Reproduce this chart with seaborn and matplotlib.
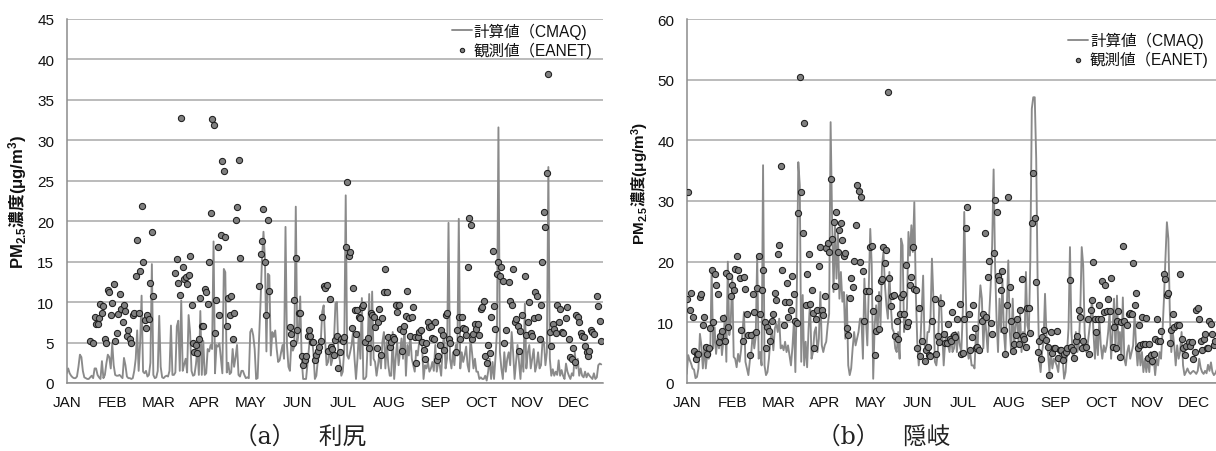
import numpy as np
import pandas as pd
import matplotlib
matplotlib.use("Agg")
import matplotlib.pyplot as plt
import seaborn as sns

N = None

MONTHS = ["JAN", "FEB", "MAR", "APR", "MAY", "JUN",
          "JUL", "AUG", "SEP", "OCT", "NOV", "DEC"]

SERIES_LABELS = ["計算値（CMAQ)", "観測値（EANET)"]
SITE_CAPTIONS = ["（a）　利尻", "（b）　隠岐"]

# Daily PM2.5 (µg/m3), Rishiri: CMAQ model
RISHIRI_MODEL = [
    1.2, 1.8, 1.2, 0.9, 0.7, 0.6, 0.6, 0.8, 2.0, 3.5,
    3.2, 1.5, 0.7, 0.6, 0.5, 0.5, 0.7, 0.9, 0.6, 1.8,
    1.8, 1.0, 0.7, 0.5, 2.7, 0.6, 1.0, 2.4, 3.5, 3.2,
    1.8, 4.9, 2.2, 1.0, 0.9, 0.9, 1.0, 0.8, 0.6, 3.1,
    2.2, 0.8, 0.6, 0.6, 0.5, 0.6, 1.5, 3.0, 6.5, 1.5,
    4.9, 10.8, 1.4, 1.2, 1.5, 0.8, 1.0, 2.5, 14.7, 1.0,
    0.6, 0.7, 1.5, 8.3, 2.0, 0.7, 0.6, 0.8, 0.9, 0.8,
    1.5, 7.1, 1.0, 1.0, 1.3, 7.0, 7.7, 1.5, 10.2, 1.5,
    2.3, 3.0, 1.3, 8.4, 6.3, 1.5, 0.9, 1.0, 2.3, 4.2,
    1.0, 8.9, 1.0, 5.2, 1.0, 1.2, 4.2, 3.9, 4.7, 4.2,
    17.5, 1.2, 4.7, 4.5, 4.9, 3.0, 1.2, 14.1, 13.7, 1.3,
    2.5, 1.1, 1.3, 4.2, 2.0, 3.2, 4.7, 1.0, 0.8, 1.5,
    1.5, 1.0, 0.6, 0.7, 0.6, 6.3, 6.7, 5.9, 4.2, 0.5,
    0.6, 5.5, 10.0, 15.4, 18.7, 15.4, 3.9, 13.5, 13.3, 3.4,
    6.3, 5.7, 6.5, 4.2, 2.6, 2.8, 3.8, 4.7, 3.0, 19.3,
    4.7, 2.0, 1.5, 5.1, 4.0, 4.5, 21.8, 5.1, 6.3, 10.7,
    3.0, 0.5, 0.5, 0.5, 2.4, 4.2, 6.3, 5.5, 3.8, 0.5,
    0.9, 2.8, 3.4, 5.0, 8.8, 9.6, 5.1, 2.2, 2.6, 4.7,
    2.2, 3.0, 5.1, 9.8, 10.0, 3.8, 2.8, 0.9, 1.4, 4.2,
    23.2, 3.4, 3.0, 3.8, 4.7, 6.3, 3.0, 0.5, 3.0, 6.3,
    3.0, 10.5, 0.5, 0.5, 0.8, 5.1, 11.0, 2.2, 11.3, 3.0,
    2.6, 0.9, 2.2, 3.8, 1.8, 5.1, 6.3, 1.8, 5.1, 2.2,
    0.9, 0.9, 6.3, 0.5, 3.0, 5.1, 2.2, 3.8, 5.5, 3.0,
    7.3, 0.9, 4.7, 3.4, 5.9, 3.0, 2.2, 1.4, 4.0, 3.4,
    5.0, 6.3, 4.7, 0.5, 2.2, 1.8, 2.6, 1.4, 1.8, 2.6,
    1.5, 4.7, 1.4, 2.6, 2.2, 0.9, 4.2, 6.3, 1.8, 3.0,
    19.8, 3.0, 1.8, 3.8, 2.2, 4.7, 3.4, 20.3, 1.8, 3.8,
    2.6, 3.4, 4.5, 2.2, 1.4, 5.5, 3.8, 1.8, 3.0, 1.4,
    1.4, 0.5, 0.7, 0.5, 0.5, 0.9, 0.3, 1.4, 3.0, 0.5,
    2.6, 0.5, 3.2, 6.3, 31.6, 3.8, 1.8, 0.5, 3.8, 1.4,
    3.0, 3.8, 2.2, 6.3, 3.8, 0.5, 2.6, 4.7, 2.6, 0.5,
    3.8, 1.4, 9.8, 1.8, 3.8, 4.7, 1.8, 3.0, 4.2, 1.4,
    2.2, 3.8, 1.8, 2.2, 5.1, 5.1, 2.2, 3.8, 26.7, 3.0,
    0.9, 1.7, 0.9, 1.4, 1.0, 2.8, 0.9, 1.6, 0.9, 0.5,
    2.4, 1.4, 0.9, 0.5, 1.2, 0.9, 3.8, 1.8, 3.0, 0.9,
    1.8, 0.9, 0.7, 1.4, 0.7, 1.2, 0.9, 0.7, 0.5, 1.2,
    0.5, 0.7, 2.2, 2.4, 2.3,
]

# Daily PM2.5 (µg/m3), Rishiri: EANET observations (None = no sample)
RISHIRI_OBS = [
    N, N, N, N, N, N, N, N, N, N,
    N, N, N, N, N, N, 5.2, N, 4.9, 8.2,
    7.3, 7.3, 8.0, 9.8, 8.7, 9.5, 5.4, 4.9, 11.5, 11.2,
    8.4, 9.9, 12.2, 5.2, 6.2, 8.5, 11.0, 9.2, 7.5, 9.6,
    8.9, 5.8, 6.6, 5.5, 4.9, 8.4, 8.7, 13.2, 17.7, 8.7,
    13.8, 21.9, 15.0, 7.8, 6.8, 8.4, 7.9, 12.4, 18.7, 10.8,
    N, N, N, N, N, N, N, N, N, N,
    N, N, N, N, 13.6, 15.3, 12.4, 10.9, 32.8, 14.3,
    12.8, 13.1, 12.2, 13.3, 15.7, 9.6, 4.9, 3.8, 4.7, 3.7,
    5.4, 10.5, 7.0, 7.0, 11.6, 11.2, 9.8, 15.0, 21.0, 32.6,
    31.9, 6.2, 10.2, 16.8, 8.4, 18.3, 27.4, 26.2, 18.0, 7.1,
    10.5, 8.4, 10.8, 5.4, 8.7, 20.2, 21.8, 27.6, 15.5, N,
    N, N, N, N, N, N, N, N, N, N,
    N, 12.0, 15.9, 17.6, 21.5, 15.0, 8.4, 20.2, 11.4, N,
    N, N, N, N, N, N, N, N, N, N,
    N, N, 6.9, 6.1, 4.9, 10.2, 15.5, 6.6, 8.6, 8.6,
    3.3, 2.2, 2.8, 3.3, 5.8, 6.5, 5.8, 5.1, 5.1, 2.9,
    3.5, 4.0, 4.5, 5.2, 8.2, 12.0, 11.7, 12.1, 3.9, 10.4,
    4.4, 4.2, 3.4, 5.3, 5.8, 1.9, 3.8, 5.5, 5.2, 5.7,
    16.8, 24.8, 15.7, 16.2, 6.8, 11.8, 9.0, 6.1, 9.0, 8.2,
    8.0, 9.4, 9.6, 5.1, N, 5.6, 4.3, 8.6, 8.4, 8.2,
    6.9, 4.3, 7.5, 9.2, 3.5, 8.0, 11.2, 14.1, 11.2, 5.7,
    4.4, 5.1, 5.7, 5.5, 9.7, 8.8, 9.7, 6.7, 4.0, 6.4,
    7.1, 8.3, 11.4, 8.0, 5.8, 8.2, 9.4, 5.7, 2.5, 5.7,
    6.3, 6.6, 5.1, 4.1, 3.0, 4.9, 7.6, 6.9, 7.1, 5.6,
    5.5, 7.5, 2.9, 3.3, 4.7, 6.6, 5.9, 4.1, 8.4, 8.7,
    5.4, 4.9, N, N, N, 3.8, 6.5, 8.2, 5.4, 8.2,
    6.8, 6.7, 5.9, 14.3, 20.4, 19.5, 5.4, 6.0, 7.3, 6.7,
    7.3, 5.9, 9.1, 9.4, 10.1, 3.3, 2.5, 4.7, 3.7, 8.2,
    16.3, 9.5, 6.7, 13.5, 15.0, 13.2, 14.4, 12.6, 4.9, 6.5,
    N, 12.5, 10.1, 9.6, 14.1, 7.6, 7.9, 7.1, 3.9, 6.4,
    8.4, N, 13.2, 5.9, 7.6, 10.0, 6.2, 5.8, 8.0, 11.2,
    10.7, 8.2, 5.4, 9.7, 15.0, 21.1, 19.3, 26.0, 38.2, 6.3,
    4.6, 7.3, 6.7, 6.2, 9.7, 7.5, 9.1, 6.3, 6.2, N,
    8.0, 9.4, 5.4, 3.2, 3.0, 4.3, 2.6, 8.4, 8.2, 7.5,
    6.2, 5.8, 5.7, 4.6, 3.8, 3.3, 4.0, 6.6, 6.3, 6.0,
    N, 10.8, 9.5, 7.7, 5.2,
]

# Daily PM2.5 (µg/m3), Oki: CMAQ model
OKI_MODEL = [
    1.5, 4.6, 3.8, 3.2, 2.4, 2.2, 0.8, 1.0, 2.4, 8.1,
    6.2, 2.4, 6.2, 2.4, 4.8, 4.0, 4.6, 18.8, 5.7, 9.2,
    4.8, 7.3, 5.7, 8.4, 4.6, 7.0, 11.2, 3.5, 20.0, 7.9,
    10.1, 17.7, 4.3, 4.0, 2.6, 4.8, 3.5, 5.4, 8.4, 11.7,
    3.5, 2.4, 1.3, 3.7, 5.1, 8.4, 5.7, 7.6, 21.0, 4.0,
    5.1, 2.9, 35.9, 2.9, 1.3, 1.8, 4.0, 7.3, 8.4, 5.4,
    9.0, 9.8, 8.4, 10.6, 5.7, 6.2, 5.4, 6.8, 5.1, 6.2,
    4.6, 2.9, 5.9, 10.1, 1.8, 15.0, 36.4, 32.6, 3.5, 14.5,
    2.9, 6.8, 2.6, 9.0, 13.4, 4.0, 5.1, 8.4, 9.2, 5.1,
    7.3, 15.0, 6.2, 5.1, 6.2, 6.8, 9.5, 11.4, 43.0, 27.0,
    15.0, 26.0, 17.2, 24.9, 13.9, 18.3, 13.4, 15.0, 7.3, 14.5,
    2.9, 1.3, 2.4, 5.7, 8.4, 6.2, 7.3, 8.4, 10.6, 10.6,
    4.0, 17.2, 10.6, 6.2, 15.5, 25.4, 19.4, 0.7, 9.5, 12.8,
    8.4, 15.0, 9.5, 19.4, 21.6, 16.1, 12.8, 10.6, 18.3, 12.8,
    9.0, 8.4, 5.7, 5.1, 8.4, 4.0, 23.8, 22.7, 8.4, 10.6,
    12.3, 24.9, 21.0, 26.0, 21.6, 29.8, 15.0, 6.8, 2.9, 5.7,
    11.7, 17.7, 6.2, 5.1, 8.4, 8.4, 10.6, 20.5, 13.9, 3.5,
    2.9, 5.1, 12.8, 14.5, 8.4, 2.9, 6.8, 8.4, 6.2, 5.1,
    7.9, 5.1, 5.7, 8.4, 5.1, 8.4, 6.2, 5.1, 11.7, 28.2,
    15.5, 5.7, 4.0, 5.1, 2.9, 2.9, 2.4, 8.4, 5.1, 11.7,
    16.1, 13.9, 5.7, 11.2, 8.4, 5.1, 11.2, 16.1, 22.7, 35.2,
    19.4, 10.6, 5.1, 13.9, 8.4, 17.2, 8.4, 5.1, 12.8, 20.2,
    8.4, 5.1, 13.9, 6.2, 9.5, 10.6, 6.8, 11.7, 5.1, 8.4,
    5.7, 18.3, 9.5, 8.4, 20.5, 45.2, 47.1, 47.1, 37.0, 16.1,
    4.0, 1.8, 5.1, 6.8, 14.7, 7.9, 5.1, 1.8, 5.1, 2.4,
    4.0, 3.5, 2.9, 1.8, 4.6, 5.1, 4.0, 0.7, 1.8, 5.1,
    9.0, 22.4, 8.4, 4.0, 5.1, 8.4, 5.1, 6.2, 11.7, 22.4,
    19.4, 8.4, 5.1, 6.2, 8.4, 10.6, 13.9, 8.4, 4.0, 8.4,
    4.6, 10.6, 6.2, 4.0, 6.2, 5.1, 6.2, 8.4, 11.7, 4.0,
    8.4, 13.9, 5.1, 14.4, 6.2, 8.4, 4.0, 14.1, 4.0, 2.9,
    5.1, 6.2, 4.0, 5.1, 6.2, 11.4, 6.2, 2.9, 6.2, 2.9,
    5.1, 1.8, 4.0, 1.8, 4.0, 1.8, 5.1, 2.9, 4.0, 1.3,
    4.0, 2.9, 5.1, 4.0, 8.4, 13.9, 20.5, 26.5, 23.8, 11.7,
    5.1, 8.4, 6.2, 2.9, 6.2, 4.0, 5.1, 8.4, 2.9, 1.3,
    1.8, 2.4, 1.8, 1.5, 1.8, 2.0, 1.8, 1.5, 2.0, 4.0,
    2.5, 1.8, 1.5, 2.0, 1.6, 3.0, 2.0, 3.4, 1.8, 1.3,
    1.6, 2.2, 1.8, 1.4, 1.3,
]

# Daily PM2.5 (µg/m3), Oki: EANET observations (None = no sample)
OKI_OBS = [
    13.9, 31.5, 12.1, 14.9, 10.8, 5.3, 3.9, 4.8, 4.8, 14.2,
    14.7, 9.5, 10.9, 6.0, 4.7, 5.8, 9.0, 18.6, 10.1, 17.9,
    16.2, 14.7, 6.8, 7.7, 8.5, 10.7, 6.9, 18.1, 9.2, 17.6,
    14.3, 16.1, 15.3, 18.8, 20.9, 18.7, 17.3, 8.8, 7.0, 17.5,
    15.5, 11.4, 7.9, 4.6, 7.9, 14.7, 11.7, 8.4, 15.7, 20.9,
    11.4, 15.3, 18.7, 10.1, 5.7, 9.2, 8.5, 7.0, 10.3, 11.4,
    14.9, 13.6, 21.3, 22.7, 35.8, 18.7, 9.5, 13.3, 16.5, 10.9,
    13.4, 12.1, 17.6, 14.7, 10.3, 9.9, 28.0, 50.4, 31.5, 24.8,
    42.9, 12.8, 17.9, 21.3, 13.1, 15.4, 11.6, 5.8, 10.5, 12.0,
    19.3, 22.4, 12.0, 11.2, 14.3, 22.3, 23.1, 21.6, 33.6, 23.8,
    26.6, 16.0, 28.2, 21.6, 25.3, 26.4, 23.5, 20.9, 21.5, 9.0,
    7.9, 14.0, 17.3, 15.8, 20.1, 26.0, 32.7, 31.6, 20.0, 30.7,
    18.4, 10.2, 15.1, N, 15.1, 22.4, 22.6, 11.8, 4.6, 8.5,
    14.0, 8.9, 16.8, 17.1, 22.4, 19.8, 22.0, 48.0, 17.3, 12.7,
    14.4, 14.5, 7.7, 10.2, 7.3, 11.3, 14.2, 14.7, 11.3, 19.5,
    9.4, 10.1, 16.1, 17.5, 22.4, 15.5, 15.3, 5.7, 12.3, 4.4,
    7.0, N, 3.7, 5.4, 5.9, 4.6, 4.4, 10.3, N, 13.9,
    4.7, 7.7, 6.8, 13.2, N, 8.1, 6.6, 6.6, 9.8, 7.2,
    7.0, 11.7, 7.9, 7.6, 10.5, N, 13.1, 4.8, 5.0, 10.6,
    25.5, 29.0, 11.3, 5.5, 7.6, 12.8, 9.1, 5.7, 5.9, 5.5,
    N, 10.2, 11.4, 24.7, 10.9, 17.5, 20.1, 9.9, 8.0, 21.5,
    30.1, 28.2, 17.7, 17.0, 15.4, 18.4, 8.7, 4.7, 12.9, 30.7,
    15.8, 10.3, 5.2, 6.5, 7.9, 10.5, 6.5, 12.0, 17.1, 7.7,
    7.3, 5.9, 12.4, 12.4, 8.2, 26.4, 34.6, 27.2, 16.6, 5.1,
    6.9, 4.0, 7.6, 8.8, N, 7.1, 5.9, 1.4, 8.4, 5.0,
    5.8, 5.7, 8.6, 4.1, 5.5, 5.4, 3.8, 4.7, 5.1, 5.8,
    N, 17.0, 5.9, 5.4, 4.2, 7.0, 7.7, 12.1, 10.9, 5.8,
    6.9, N, 5.9, 10.6, 4.7, 12.0, 13.6, 19.9, 10.5, 8.4,
    10.6, 12.9, 10.6, 16.8, 11.7, 16.1, 11.8, 13.9, 11.8, 17.3,
    5.9, 9.2, 5.8, 10.2, 11.8, 4.3, 10.1, 22.6, 10.3, N,
    9.5, 11.4, 11.5, 11.4, 19.7, 12.8, 14.9, 5.8, 9.6, 6.2,
    10.9, 6.5, 6.5, 10.7, 4.2, 6.5, 4.6, 3.7, 4.8, 7.2,
    10.5, 7.0, 6.9, 8.5, N, 17.9, 17.1, 14.5, 14.9, 6.6,
    8.7, 11.3, 9.2, N, 9.5, 9.5, 17.9, 7.3, 5.8, 4.6,
    6.1, N, 6.8, 6.1, 6.8, 4.0, 5.1, 12.0, 12.4, 10.5,
    7.0, 5.5, 7.2, 8.0, 5.7, 5.8, 10.3, 9.8, 8.1, 6.2,
    7.0, N, N, N, N,
]

# ---------------------------------------------------------------- style
sns.set_style("white")
plt.rcParams["font.family"] = ["Liberation Sans", "Noto Sans CJK JP"]
plt.rcParams["mathtext.fontset"] = "custom"
plt.rcParams["mathtext.rm"] = "Liberation Sans:bold"
plt.rcParams["mathtext.bf"] = "Liberation Sans:bold"
plt.rcParams["mathtext.default"] = "bf"

LINE_COLOR = "#8a8a8a"
DOT_FACE = "#808080"
DOT_EDGE = "#1e1e1e"
GRID_COLOR = "#a8a8a8"
AXIS_COLOR = "#8c8c8c"
TEXT_COLOR = "#111111"

W, H = 1216, 452
fig = plt.figure(figsize=(W / 100, H / 100), dpi=100)
fig.patch.set_facecolor("white")

ax_a = fig.add_axes([66.7 / W, 1 - 384 / H, 536 / W, 364 / H])
ax_b = fig.add_axes([686.7 / W, 1 - 384 / H, 536 / W, 364 / H])

YLABEL = r"$PM_{2.5}$濃度$(\mu g/m^{3})$"


def draw_site(ax, model, obs, ymax, ystep, legend_anchor, ylabel_pos,
              ylabel_size):
    days = np.arange(len(model))
    df_model = pd.DataFrame({"day": days, "pm25": model})
    df_obs = pd.DataFrame({"day": np.arange(len(obs)),
                           "pm25": pd.to_numeric(pd.Series(obs), errors="coerce")})
    df_obs = df_obs.dropna()

    sns.lineplot(data=df_model, x="day", y="pm25", ax=ax, color=LINE_COLOR,
                 linewidth=1.35, label=SERIES_LABELS[0], zorder=3)
    sns.scatterplot(data=df_obs, x="day", y="pm25", ax=ax, s=20,
                    color=DOT_FACE, edgecolor=DOT_EDGE, linewidth=0.75,
                    label=SERIES_LABELS[1], zorder=4)

    ax.set_xlim(0, 365)
    ax.set_ylim(0, ymax)
    ax.set_yticks(np.arange(0, ymax + 1, ystep))
    ax.set_xticks(np.arange(12) * 31.37)
    ax.set_xticklabels(MONTHS)

    ax.set_axisbelow(True)
    ax.yaxis.grid(True, color=GRID_COLOR, linewidth=1.1)
    ax.xaxis.grid(False)
    for side in ("top", "right"):
        ax.spines[side].set_visible(False)
    for side in ("left", "bottom"):
        ax.spines[side].set_color(AXIS_COLOR)
        ax.spines[side].set_linewidth(1.1)

    ax.tick_params(axis="y", length=0, pad=9, labelsize=11,
                   labelcolor=TEXT_COLOR)
    ax.tick_params(axis="x", length=4, width=1.1, color=AXIS_COLOR, pad=5,
                   labelsize=11, labelcolor=TEXT_COLOR)

    ax.set_xlabel("")
    ax.set_ylabel(YLABEL, fontsize=ylabel_size, fontweight="bold",
                  family="Noto Sans CJK JP", color=TEXT_COLOR)
    ax.yaxis.set_label_coords(*ylabel_pos)

    handles, labels = ax.get_legend_handles_labels()
    leg = ax.legend(handles, labels, loc="upper right",
                    bbox_to_anchor=legend_anchor, frameon=False,
                    borderpad=0, borderaxespad=0, handlelength=1.3,
                    handletextpad=0.1, labelspacing=0.15, fontsize=11.2,
                    markerscale=0.7)
    for t in leg.get_texts():
        t.set_color(TEXT_COLOR)


draw_site(ax_a, RISHIRI_MODEL, RISHIRI_OBS, 45, 5,
          legend_anchor=(0.981, 0.99), ylabel_pos=(-0.071, 0.5),
          ylabel_size=12)
draw_site(ax_b, OKI_MODEL, OKI_OBS, 60, 10,
          legend_anchor=(0.974, 0.965), ylabel_pos=(-0.066, 0.55),
          ylabel_size=11)

for x, caption in zip([300 / W, 884 / W], SITE_CAPTIONS):
    fig.text(x, 1 - 437 / H, caption, ha="center", va="center",
             fontsize=17, family=["DejaVu Serif", "Noto Sans CJK JP"],
             color="#222222")

fig.savefig("out.png", dpi=100, facecolor="white")
